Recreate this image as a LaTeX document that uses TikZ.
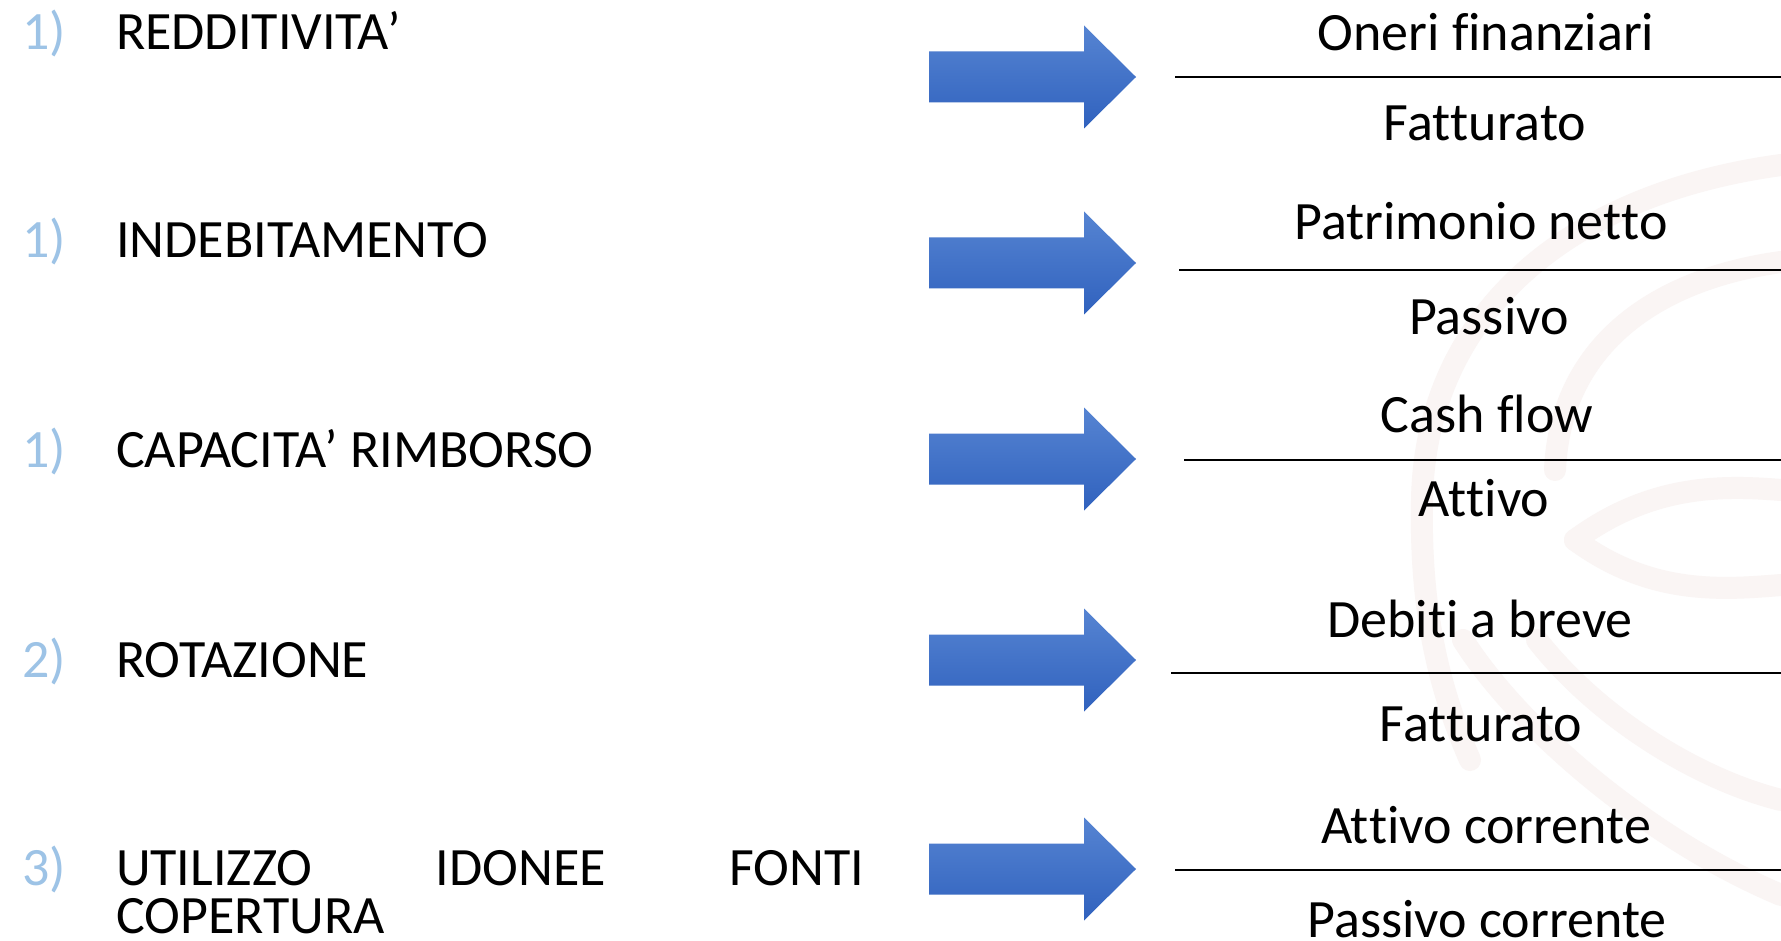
\documentclass[tikz,border=0pt]{standalone}
\usepackage{fontspec}
\setmainfont{Carlito}[RawFeature=-liga, RawFeature=-clig, RawFeature=-calt, RawFeature=-dlig]
% an empty kern keeps two letters apart so that no ligature is formed
\newcommand\splitlig{\kern0pt }
\definecolor{numblue}{RGB}{157,195,230}
\definecolor{arrtop}{RGB}{86,132,210}
\definecolor{arrbot}{RGB}{48,98,190}
\definecolor{markpink}{RGB}{250,245,244}
\tikzset{
  bigtext/.style={font=\fontsize{54}{54}\selectfont, inner sep=0pt, outer sep=0pt},
  numlabel/.style={bigtext, text=numblue, anchor=base west},
  itemlabel/.style={bigtext, anchor=base west},
  fraclabel/.style={bigtext, anchor=base},
  fracbar/.style={line width=2.2pt},
  arrowbody/.style={top color=arrtop, bottom color=arrbot, draw=none},
  watermark/.style={draw=markpink, line width=22pt, line cap=round}
}
% block arrow centred vertically on #1
\newcommand\blockarrow[1]{%
  \path[arrowbody] (929,#1-25.5) -- (1084,#1-25.5) -- (1084,#1-51.5) -- (1136,#1)
    -- (1084,#1+51.5) -- (1084,#1+25.5) -- (929,#1+25.5) -- cycle;}
\begin{document}
\begin{tikzpicture}[x=1pt,y=-1pt]
\useasboundingbox[fill=white] (0,0) rectangle (1781,941);

% faint logo in the background
\begin{scope}[watermark]
  \draw (1781,165) .. controls (1560,195) and (1425,320) .. (1422,500)
        .. controls (1420,600) and (1435,680) .. (1470,760);
  \draw (1781,262) .. controls (1650,280) and (1560,350) .. (1555,470);
  \draw (1575,540) .. controls (1650,485) and (1720,485) .. (1781,490);
  \draw (1575,540) .. controls (1650,595) and (1720,590) .. (1781,585);
  \draw (1463,640) .. controls (1520,730) and (1650,840) .. (1781,895);
  \draw (1537,640) .. controls (1600,720) and (1700,780) .. (1781,800);
\end{scope}

% left column: numbers and headings
\node[numlabel] (n1) at (22,50) {1)};
\node[itemlabel] (h1) at (116,50) {REDDITIVITA’};
\node[numlabel] (n2) at (22,258) {1)};
\node[itemlabel] (h2) at (116,258) {INDEBITAMENTO};
\node[numlabel] (n3) at (22,467) {1)};
\node[itemlabel] (h3) at (116,467) {CAPACITA’ RIMBORSO};
\node[numlabel] (n4) at (22,677) {2)};
\node[itemlabel] (h4) at (116,677) {ROTAZIONE};
\node[numlabel] (n5) at (22,885) {3)};
\node[itemlabel] (h5) at (116,885) {\makebox[748pt][l]{UTILIZZO\hfill IDONEE\hfill FONTI}};
\node[itemlabel] (h5b) at (116,933) {COPERTURA};

% arrows
\blockarrow{77}
\blockarrow{263}
\blockarrow{459}
\blockarrow{660}
\blockarrow{869}

% fraction bars
\coordinate (b1s) at (1175,77);  \coordinate (b1e) at (1781,77);
\coordinate (b2s) at (1179,270); \coordinate (b2e) at (1781,270);
\coordinate (b3s) at (1184,460); \coordinate (b3e) at (1781,460);
\coordinate (b4s) at (1171,673); \coordinate (b4e) at (1781,673);
\coordinate (b5s) at (1175,870); \coordinate (b5e) at (1781,870);
\draw[fracbar] (b1s) -- (b1e);
\draw[fracbar] (b2s) -- (b2e);
\draw[fracbar] (b3s) -- (b3e);
\draw[fracbar] (b4s) -- (b4e);
\draw[fracbar] (b5s) -- (b5e);

% numerators and denominators
\node[fraclabel] (f1n) at (1486,51)  {Oneri f\splitlig inanziari};
\node[fraclabel] (f1d) at (1485,141) {Fat\splitlig t\splitlig urato};
\node[fraclabel] (f2n) at (1481,240) {Patrimonio net\splitlig to};
\node[fraclabel] (f2d) at (1489,335) {Passivo};
\node[fraclabel] (f3n) at (1487,432) {Cash f\splitlig low};
\node[fraclabel] (f3d) at (1484,516) {At\splitlig t\splitlig ivo};
\node[fraclabel] (f4n) at (1480,637) {Debit\splitlig i a breve};
\node[fraclabel] (f4d) at (1481,741) {Fat\splitlig t\splitlig urato};
\node[fraclabel] (f5n) at (1486,843) {At\splitlig t\splitlig ivo corrente};
\node[fraclabel] (f5d) at (1487,937) {Passivo corrente};
\end{tikzpicture}
\end{document}
